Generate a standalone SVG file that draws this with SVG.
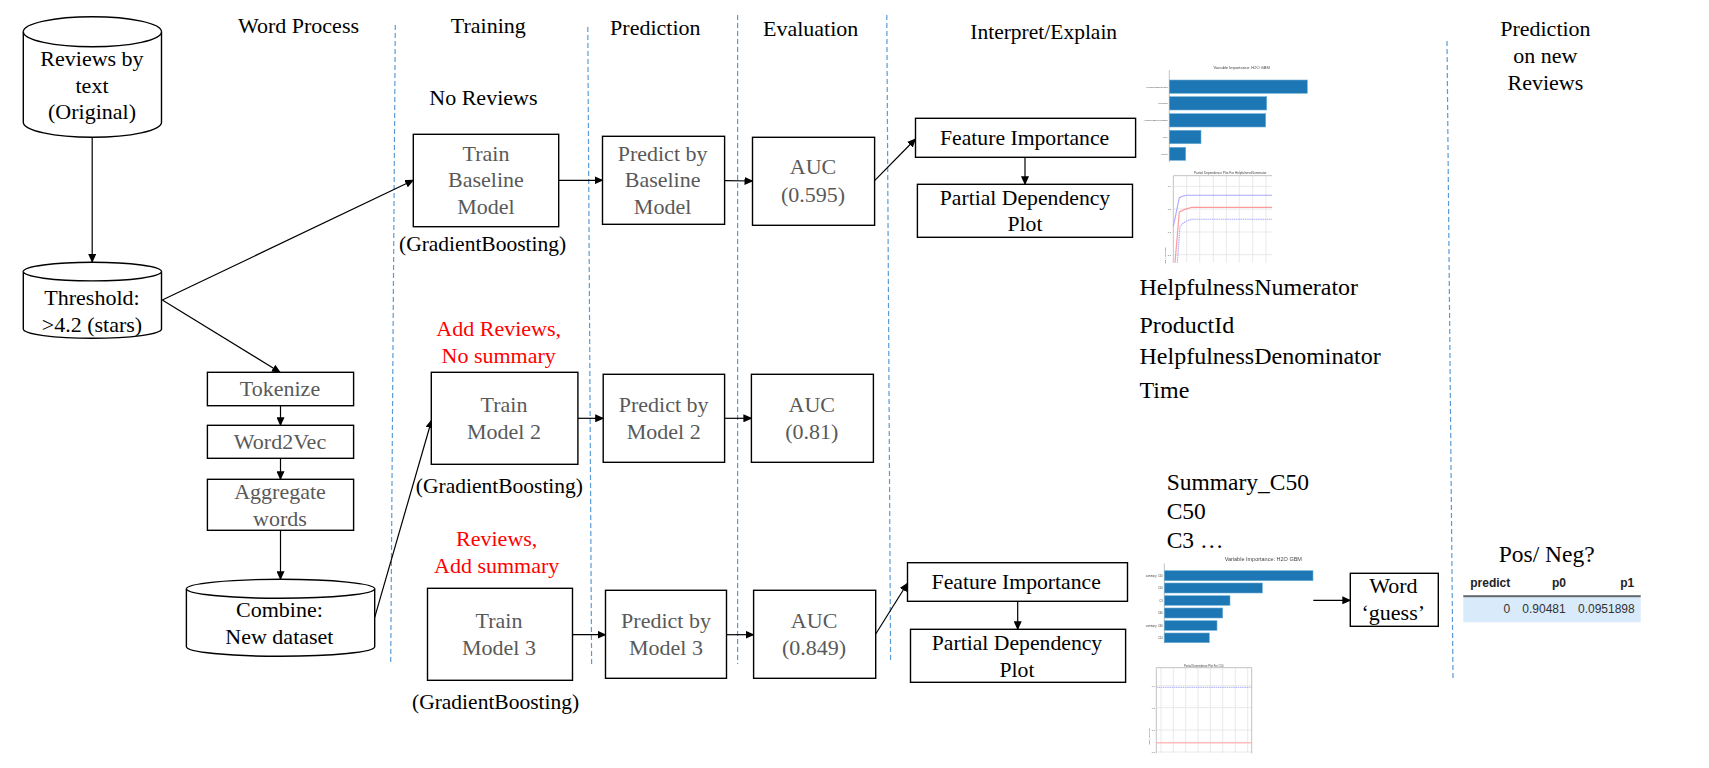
<svg xmlns="http://www.w3.org/2000/svg" width="1709" height="768" viewBox="0 0 1709 768">
<style>
text{font-family:"Liberation Serif","Times New Roman",serif;font-size:22px;fill:#000;text-anchor:middle}
.g{fill:#595959}
.r{fill:#f00}
.gb{font-size:21.5px}
.fi{font-size:21.7px}
.l{text-anchor:start;font-size:24px}
.m{text-anchor:start;font-size:23.5px}
.b{fill:#fff;stroke:#000;stroke-width:1.4}
.c{stroke:#000;stroke-width:1.2;fill:none;marker-end:url(#a)}
.d{stroke:#5b9bd5;stroke-width:1.2;stroke-dasharray:5 3;fill:none}
text.s{font-family:"Liberation Sans",Arial,sans-serif;fill:#444}
text.e{text-anchor:end}
.bar{fill:#1f77b4;stroke:#6baed6;stroke-width:.6}
.grid{stroke:#e6e6e6;stroke-width:.9;fill:none}
.spine{stroke:#bbb;stroke-width:.9;fill:none}
text.th{font-family:"Liberation Sans",Arial,sans-serif;font-size:12px;font-weight:bold;text-anchor:end;fill:#222}
text.td{font-family:"Liberation Sans",Arial,sans-serif;font-size:12px;text-anchor:end;fill:#333}
</style>
<defs>
<marker id="a" markerWidth="9" markerHeight="8" refX="8" refY="4" orient="auto" markerUnits="userSpaceOnUse"><path d="M0 0L9 4L0 8z" fill="#000"/></marker>
<filter id="soft" x="-5%" y="-5%" width="110%" height="110%"><feGaussianBlur stdDeviation="0.35"/></filter>
<clipPath id="pc1"><rect x="1160" y="170" width="113" height="92.7"/></clipPath>
</defs>
<rect width="1709" height="768" fill="#fff"/>

<g id="dividers">
<path class="d" d="M395.3 25L390.7 664"/>
<path class="d" d="M587.8 27L591.6 664"/>
<path class="d" d="M737.6 15V664"/>
<path class="d" d="M886.8 15L890.6 663"/>
<path class="d" d="M1447 41L1453 678"/>
</g>

<g id="titles">
<text x="298.5" y="33.3">Word Process</text>
<text x="488.3" y="33.3">Training</text>
<text x="655.3" y="34.7">Prediction</text>
<text x="810.7" y="35.7">Evaluation</text>
<text class="gb" x="1043.7" y="38.7">Interpret/Explain</text>
<text x="1545.4" y="35.7">Prediction</text>
<text x="1545.4" y="63">on new</text>
<text x="1545.4" y="89.7">Reviews</text>
<text x="483.4" y="105.3">No Reviews</text>
<text x="498.7" y="335.7" class="r">Add Reviews,</text>
<text x="498.7" y="362.7" class="r">No summary</text>
<text x="496.7" y="545.7" class="r">Reviews,</text>
<text x="496.7" y="572.7" class="r">Add summary</text>
<text class="gb" x="482.6" y="250.7">(GradientBoosting)</text>
<text class="gb" x="499.4" y="493">(GradientBoosting)</text>
<text class="gb" x="495.6" y="709">(GradientBoosting)</text>
</g>

<g id="connectors">
<path class="c" d="M92.2 137.3V262"/>
<path class="c" d="M162.3 300L413.3 180.3"/>
<path class="c" d="M162.3 300L280 372.3"/>
<path class="c" d="M280.5 405.7V425.3"/>
<path class="c" d="M280.5 458.3V479.3"/>
<path class="c" d="M280.5 530.3V579.3"/>
<path class="c" d="M374.7 617.3L431.7 420"/>
<path class="c" d="M558.7 180.3H602.5"/>
<path class="c" d="M724.6 180.7L752.5 181"/>
<path class="c" d="M874.6 180.7L915.5 139"/>
<path class="c" d="M1025 157.3V184.3"/>
<path class="c" d="M577.9 418.3H603.2"/>
<path class="c" d="M724.6 418.3H751.4"/>
<path class="c" d="M572.5 634.7H605.5"/>
<path class="c" d="M726.5 634.7H753.6"/>
<path class="c" d="M875.7 634L907.5 583.3"/>
<path class="c" d="M1017.7 601.3V629.3"/>
<path class="c" d="M1313.3 600.3H1350.3"/>
</g>

<g id="reviews-original">
<path class="b" d="M23.3 31.7A69 15 0 0 1 161.5 31.7V122.3A69 15 0 0 1 23.3 122.3Z"/>
<path class="b" d="M23.3 31.7A69 15 0 0 0 161.5 31.7" fill="none"/>
<text x="92" y="65.7">Reviews by</text><text x="92" y="92.7">text</text><text x="92" y="119">(Original)</text>
</g>
<g id="threshold">
<path class="b" d="M23.3 271.6A69 9.3 0 0 1 161.5 271.6V329A69 9.3 0 0 1 23.3 329Z"/>
<path class="b" d="M23.3 271.6A69 9.3 0 0 0 161.5 271.6"/>
<text x="92" y="305">Threshold:</text><text x="92" y="331.7">&gt;4.2 (stars)</text>
</g>
<g id="tokenize"><rect class="b" x="207.4" y="372.3" width="146.2" height="33.4"/><text class="g" x="280" y="396">Tokenize</text></g>
<g id="word2vec"><rect class="b" x="207.4" y="425.3" width="146.2" height="33"/><text class="g" x="280" y="448.7">Word2Vec</text></g>
<g id="aggregate"><rect class="b" x="207.4" y="479.3" width="146.2" height="51"/><text class="g" x="280" y="499">Aggregate</text><text class="g" x="280" y="525.7">words</text></g>
<g id="combine">
<path class="b" d="M186.4 588.8A94 9.5 0 0 1 374.7 588.8V646.8A94 9.5 0 0 1 186.4 646.8Z"/>
<path class="b" d="M186.4 588.8A94 9.5 0 0 0 374.7 588.8"/>
<text x="279.4" y="616.7">Combine:</text><text x="279.4" y="643.7">New dataset</text>
</g>

<g id="train-baseline"><rect class="b" x="413.3" y="134.3" width="145.4" height="92.4"/><text class="g" x="486" y="160.7">Train</text><text class="g" x="486" y="187.3">Baseline</text><text class="g" x="486" y="214">Model</text></g>
<g id="train-2"><rect class="b" x="431.3" y="372.3" width="146.6" height="92"/><text class="g" x="504" y="411.7">Train</text><text class="g" x="504" y="438.7">Model 2</text></g>
<g id="train-3"><rect class="b" x="427.5" y="588.3" width="145" height="92"/><text class="g" x="499" y="627.7">Train</text><text class="g" x="499" y="654.7">Model 3</text></g>

<g id="predict-baseline"><rect class="b" x="602.5" y="136.3" width="122.1" height="88"/><text class="g" x="662.6" y="160.7">Predict by</text><text class="g" x="662.6" y="187.3">Baseline</text><text class="g" x="662.6" y="214">Model</text></g>
<g id="predict-2"><rect class="b" x="603.2" y="374.3" width="121.4" height="88"/><text class="g" x="663.7" y="411.7">Predict by</text><text class="g" x="663.7" y="438.7">Model 2</text></g>
<g id="predict-3"><rect class="b" x="605.5" y="590.3" width="121" height="88"/><text class="g" x="666" y="627.7">Predict by</text><text class="g" x="666" y="654.7">Model 3</text></g>

<g id="auc-baseline"><rect class="b" x="752.5" y="137.3" width="122.1" height="88"/><text class="g" x="813" y="174.3">AUC</text><text class="g" x="813" y="201.7">(0.595)</text></g>
<g id="auc-2"><rect class="b" x="751.4" y="374.3" width="122" height="88"/><text class="g" x="811.8" y="411.7">AUC</text><text class="g" x="811.8" y="438.7">(0.81)</text></g>
<g id="auc-3"><rect class="b" x="753.6" y="590.3" width="122.1" height="88"/><text class="g" x="814.1" y="627.7">AUC</text><text class="g" x="814.1" y="654.7">(0.849)</text></g>

<g id="feature-importance-1"><rect class="b" x="915.5" y="118.3" width="220.1" height="39"/><text class="fi" x="1024.6" y="144.7">Feature Importance</text></g>
<g id="pdp-1"><rect class="b" x="917.4" y="184.3" width="215.1" height="53"/><text class="fi" x="1025" y="204.7">Partial Dependency</text><text class="fi" x="1025" y="231.3">Plot</text></g>
<g id="feature-importance-2"><rect class="b" x="907.5" y="562.7" width="220" height="38.6"/><text class="fi" x="1016.2" y="588.7">Feature Importance</text></g>
<g id="pdp-2"><rect class="b" x="910.5" y="629.3" width="215.1" height="53"/><text class="fi" x="1017" y="649.7">Partial Dependency</text><text class="fi" x="1017" y="676.7">Plot</text></g>

<g id="chart-importance-1" filter="url(#soft)">
<text class="s" x="1241.7" y="69" style="font-size:4px">Variable Importance: H2O GBM</text>
<path class="spine" d="M1169.3 70V162.3"/>
<rect class="bar" x="1169.3" y="80" width="138" height="13.3"/>
<rect class="bar" x="1169.3" y="96.7" width="97.4" height="13.3"/>
<rect class="bar" x="1169.3" y="113.7" width="96.4" height="13.3"/>
<rect class="bar" x="1169.3" y="130.3" width="31.7" height="13.4"/>
<rect class="bar" x="1169.3" y="147.3" width="16.4" height="13"/>
<text class="s e" x="1167.7" y="87.5" style="font-size:2.2px">HelpfulnessNumerator</text>
<text class="s e" x="1167.7" y="104" style="font-size:2.2px">ProductId</text>
<text class="s e" x="1167.7" y="121" style="font-size:2.2px">HelpfulnessDenominator</text>
<text class="s e" x="1167.7" y="137.8" style="font-size:2.2px">Time</text>
<text class="s e" x="1167.7" y="154.5" style="font-size:2.2px">UserId</text>
</g>

<g id="chart-dependence-1" filter="url(#soft)">
<text class="s" x="1230.3" y="174" style="font-size:3.2px">Partial Dependence Plot For HelpfulnessNumerator</text>
<path class="grid" d="M1186.7 176V262.7M1199.7 176V262.7M1213.3 176V262.7M1226.3 176V262.7M1239.3 176V262.7M1252.7 176V262.7M1266 176V262.7M1173.3 186.3H1272M1173.3 209H1272M1173.3 232H1272M1173.3 254.7H1272"/>
<path class="spine" d="M1173.3 262.7V175.7H1272" stroke-width="1.2"/>
<path d="M1173.3 226.7L1179.3 197.7Q1182 196 1186.7 195.3H1272" fill="none" stroke="#a9a9ff" stroke-width="1.1"/>
<path d="M1175 262.7L1179.3 212Q1184 209 1191.7 207.3H1272" fill="none" stroke="#ff9a9a" stroke-width="1.2"/>
<path d="M1177.3 262.7L1180 226.7Q1184 221 1191.7 219.3H1272" fill="none" stroke="#a9a9ff" stroke-width="1.1" stroke-dasharray="1.5 .7"/>
<text class="s e" x="1171" y="187.3" style="font-size:2.4px">0.9</text>
<text class="s e" x="1171" y="210" style="font-size:2.4px">0.8</text>
<text class="s e" x="1171" y="233" style="font-size:2.4px">0.7</text>
<text class="s e" x="1171" y="255.7" style="font-size:2.4px">0.6</text>
<text class="s" transform="translate(1166 256) rotate(-90)" style="font-size:2.4px">mean_response</text>
</g>

<g id="importance-list-1">
<text class="l" x="1139.5" y="295">HelpfulnessNumerator</text>
<text class="l" x="1139.5" y="332.7">ProductId</text>
<text class="l" x="1139.5" y="364">HelpfulnessDenominator</text>
<text class="l" x="1139.5" y="397.7">Time</text>
</g>
<g id="importance-list-2">
<text class="m" x="1166.7" y="490">Summary_C50</text>
<text class="m" x="1166.7" y="519">C50</text>
<text class="m" x="1166.7" y="547.7">C3 …</text>
</g>

<g id="chart-importance-2" filter="url(#soft)">
<text class="s" x="1263.3" y="561.3" style="font-size:5.5px">Variable Importance: H2O GBM</text>
<path class="spine" d="M1164.3 563.3V643.3"/>
<rect class="bar" x="1164.3" y="570.7" width="148.7" height="10"/>
<rect class="bar" x="1164.3" y="583" width="98" height="10"/>
<rect class="bar" x="1164.3" y="595.7" width="65.7" height="9.6"/>
<rect class="bar" x="1164.3" y="608" width="58.4" height="10"/>
<rect class="bar" x="1164.3" y="620.7" width="52.7" height="9.6"/>
<rect class="bar" x="1164.3" y="633" width="45" height="9.7"/>
<text class="s e" x="1162.7" y="577" style="font-size:2.6px">summary_C50</text>
<text class="s e" x="1162.7" y="589" style="font-size:2.6px">C50</text>
<text class="s e" x="1162.7" y="601.5" style="font-size:2.6px">C3</text>
<text class="s e" x="1162.7" y="614" style="font-size:2.6px">C66</text>
<text class="s e" x="1162.7" y="626.5" style="font-size:2.6px">summary_C66</text>
<text class="s e" x="1162.7" y="639" style="font-size:2.6px">C24</text>
</g>

<g id="chart-dependence-2" filter="url(#soft)">
<text class="s" x="1203.7" y="666.7" style="font-size:2.7px">Partial Dependence Plot For C50</text>
<path class="grid" d="M1161 668V753M1173.3 668V753M1185.7 668V753M1198 668V753M1210.3 668V753M1222.7 668V753M1235.3 668V753M1247.7 668V753M1156.3 685.7H1251.7M1156.3 707.7H1251.7M1156.3 730H1251.7M1156.3 752H1251.7"/>
<path class="spine" d="M1156.3 753.3V667.7H1251.7V753.3" stroke-width="1.1"/>
<path d="M1156.3 687.3H1251.7" stroke="#a9a9ff" stroke-width="1" stroke-dasharray="1.5 .7" fill="none"/>
<path d="M1156.3 742.7H1251.7" stroke="#ffbcbc" stroke-width="1.6" fill="none"/>
<text class="s e" x="1155" y="686.7" style="font-size:2.3px">0.9</text>
<text class="s e" x="1155" y="708.7" style="font-size:2.3px">0.8</text>
<text class="s e" x="1155" y="731" style="font-size:2.3px">0.7</text>
<text class="s e" x="1155" y="753" style="font-size:2.3px">0.6</text>
<text class="s" transform="translate(1149.5 736.7) rotate(-90)" style="font-size:2.4px">mean_response</text>
</g>

<g id="word-guess"><rect class="b" x="1350.3" y="573.3" width="88" height="53"/><text x="1393.3" y="593.3">Word</text><text x="1393.3" y="620">‘guess’</text></g>

<g id="result-table">
<text x="1546.7" y="561.7" style="font-size:23.5px">Pos/ Neg?</text>
<rect x="1463.3" y="597" width="177.4" height="25.3" fill="#d9ebfb"/>
<rect x="1463.3" y="595.2" width="177.4" height="2" fill="#63676b"/>
<text class="th" x="1510.3" y="586.7">predict</text>
<text class="th" x="1566" y="586.7">p0</text>
<text class="th" x="1634.3" y="586.7">p1</text>
<text class="td" x="1510.3" y="613.3">0</text>
<text class="td" x="1565.7" y="613.3">0.90481</text>
<text class="td" x="1634.7" y="613.3">0.0951898</text>
</g>
</svg>
